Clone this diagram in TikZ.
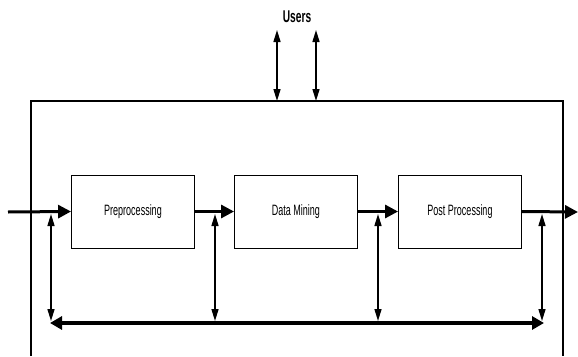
\documentclass[tikz,border=0pt]{standalone}
\usepackage{fontspec}
\setmainfont{Liberation Sans}
\newfontfamily\labfont{Liberation Sans}[FakeStretch=0.6]
\usetikzlibrary{arrows.meta}
\begin{document}
\begin{tikzpicture}[x=1pt,y=-1pt,
  stage/.style={draw=black,line width=0.9pt,minimum width=123pt,minimum height=73pt,inner sep=0pt,font=\labfont\fontsize{15}{15}\selectfont},
  flow/.style={line width=3pt,-{Triangle[length=13pt,width=13pt]}},
  link/.style={line width=1.5pt,{Triangle[length=12pt,width=7pt]}-{Triangle[length=12pt,width=7pt]}},
  bus/.style={line width=3.5pt,{Triangle[length=12pt,width=13pt]}-{Triangle[length=12pt,width=13pt]}},
  frame/.style={line width=1.4pt}]
\useasboundingbox (0,0) rectangle (578,356);
% frame
\coordinate (fbl) at (31,356);
\coordinate (ftl) at (31,101);
\coordinate (ftr) at (563,101);
\coordinate (fbr) at (563,356);
\draw[frame] (fbl) -- (ftl) -- (ftr) -- (fbr);
% users
\node[font=\labfont\bfseries\fontsize{17}{17}\selectfont] (users) at (297,17) {Users};
\coordinate (u1t) at (277,30);
\coordinate (u1b) at (277,101);
\coordinate (u2t) at (316,30);
\coordinate (u2b) at (316,101);
\draw[link] (u1t) -- (u1b);
\draw[link] (u2t) -- (u2b);
% stages
\node[stage] (pre) at (133,211.5) {Preprocessing};
\node[stage] (dm) at (296,211.5) {Data Mining};
\node[stage] (post) at (460,211.5) {Post Processing};
\coordinate (in) at (8,212);
\coordinate (out) at (578,212);
\draw[flow] (in) -- (pre.west);
\draw[flow] (pre.east) -- (dm.west);
\draw[flow] (dm.east) -- (post.west);
\draw[flow] (post.east) -- (out);
% vertical links
\foreach \n/\x in {a/51,b/215,c/378,d/542}{
  \coordinate (\n t) at (\x,214);
  \coordinate (\n b) at (\x,321);
  \draw[link] (\n b) -- (\n t);
}
% bus
\coordinate (busl) at (50,323);
\coordinate (busr) at (544,323);
\draw[bus] (busl) -- (busr);
\end{tikzpicture}
\end{document}
